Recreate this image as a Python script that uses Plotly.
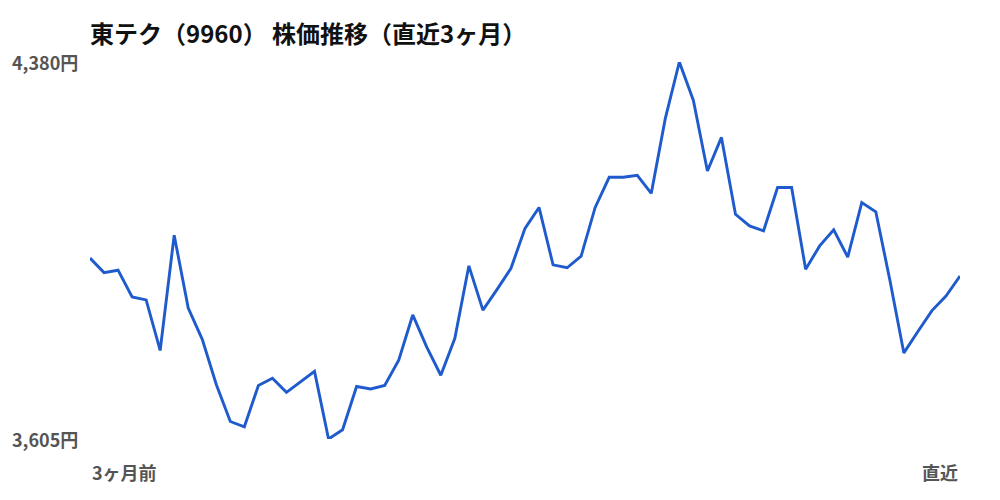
import plotly.graph_objects as go

# 東テク（9960）終値 直近3ヶ月（日次、画像から読み取り）
days = list(range(63))
close = [
    3977, 3947, 3952, 3897, 3891, 3787, 4024, 3874, 3810, 3717,
    3641, 3630, 3715, 3730, 3701, 3723, 3744, 3605, 3624, 3713,
    3708, 3715, 3767, 3860, 3794, 3736, 3812, 3961, 3870, 3912,
    3956, 4038, 4081, 3963, 3957, 3981, 4081, 4143, 4143, 4147,
    4110, 4264, 4380, 4301, 4156, 4225, 4067, 4043, 4033, 4122,
    4122, 3954, 4002, 4035, 3979, 4091, 4072, 3932, 3782, 3826,
    3869, 3899, 3940,
]
title = "東テク（9960） 株価推移（直近3ヶ月）"
x_labels = ["3ヶ月前", "直近"]
y_min, y_max = min(close), max(close)

font = "Noto Sans CJK JP"
gray = "#555555"

# page body has an 8px margin, so the figure is a bit smaller than the window
W, H = 992, 492
L, R, T, B = 82, 40, 53.5, 60.5
plot_w, plot_h = W - L - R, H - T - B

fig = go.Figure()
fig.add_trace(go.Scatter(
    x=days, y=close, mode="lines",
    line=dict(color="#1f5bcc", width=2.9),
    hoverinfo="skip",
))

label_font = dict(family=font, size=18, color=gray, weight="bold")
for v in (y_max, y_min):
    fig.add_annotation(x=-80 / plot_w, y=v, xref="paper", yref="y", text=f"{v:,}円",
                       xanchor="left", yanchor="middle", showarrow=False, font=label_font)

fig.add_annotation(x=0, y=-33 / plot_h, xref="paper", yref="paper", text=x_labels[0],
                   xanchor="left", yanchor="middle", showarrow=False, font=label_font)
fig.add_annotation(x=1, y=-33 / plot_h, xref="paper", yref="paper", text=x_labels[1],
                   xanchor="right", yanchor="middle", showarrow=False, font=label_font)

fig.update_layout(
    width=W, height=H,
    margin=dict(l=L, r=R, t=T, b=B),
    paper_bgcolor="white", plot_bgcolor="white",
    showlegend=False,
    title=dict(text=title, x=L / W, xanchor="left", y=1 - 27 / H, yanchor="middle",
               font=dict(family=font, size=24, color="#111111", weight="bold")),
    xaxis=dict(range=[0, 62], visible=False),
    yaxis=dict(range=[y_min, y_max], visible=False),
)

fig.write_html("out.html")
